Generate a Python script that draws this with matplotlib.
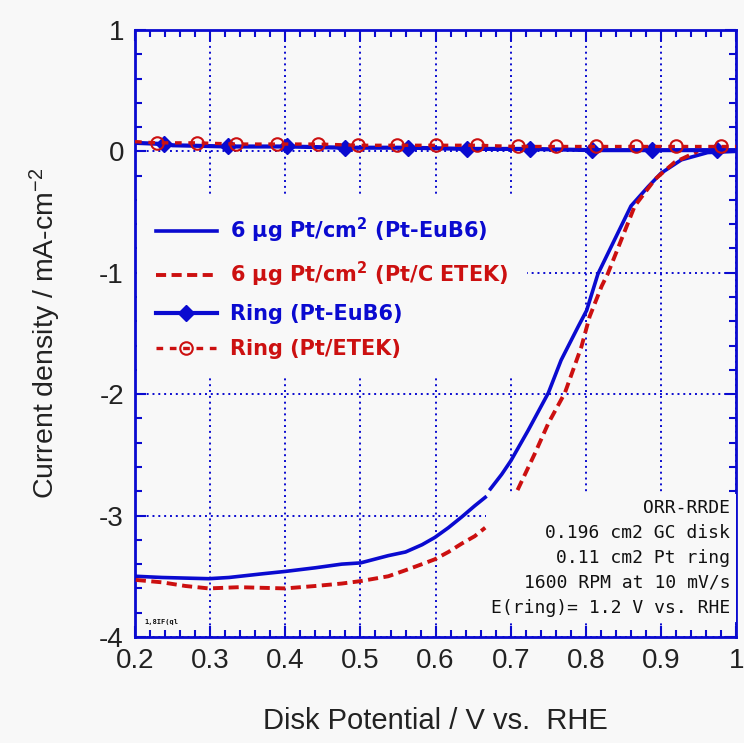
# ORR-RRDE: disk and ring currents, Pt-EuB6 vs Pt/C ETEK
import numpy as np
import matplotlib.pyplot as plt
from matplotlib.ticker import MultipleLocator

# === 0. data ===
nan = np.nan
# disk current, Pt-EuB6 (blue solid), NaN = small gap in the trace
disk_eub6_v = [0.201, 0.236, 0.298, 0.325, 0.369, 0.400, 0.440, 0.475, 0.500, 0.537,
               0.560, 0.582, 0.599, 0.617, 0.635, 0.652, 0.666, nan, 0.673, 0.688,
               0.700, 0.723, 0.750, 0.767, 0.790, 0.801, 0.816, 0.838, 0.860, 0.883,
               0.900, 0.927, 0.962, 1.000]
disk_eub6_j = [-3.50, -3.51, -3.52, -3.51, -3.48, -3.46, -3.43, -3.40, -3.39, -3.33,
               -3.30, -3.24, -3.18, -3.10, -3.01, -2.92, -2.85, nan, -2.78, -2.66,
               -2.55, -2.30, -1.99, -1.72, -1.44, -1.31, -1.01, -0.73, -0.45, -0.29,
               -0.18, -0.07, -0.01, 0.00]
# disk current, Pt/C ETEK (red dashed)
disk_etek_v = [0.201, 0.236, 0.267, 0.298, 0.338, 0.400, 0.440, 0.475, 0.500, 0.537,
               0.560, 0.582, 0.599, 0.617, 0.635, 0.652, 0.666, nan, 0.709, 0.732,
               0.750, 0.772, 0.794, 0.805, 0.821, 0.829, 0.847, 0.865, 0.892, 0.918,
               0.949]
disk_etek_j = [-3.53, -3.55, -3.58, -3.60, -3.59, -3.60, -3.58, -3.56, -3.54, -3.50,
               -3.45, -3.40, -3.36, -3.30, -3.23, -3.17, -3.10, nan, -2.79, -2.49,
               -2.24, -1.99, -1.61, -1.36, -1.11, -1.01, -0.73, -0.45, -0.23, -0.09,
               0.00]
# ring current, Pt-EuB6 (blue, diamonds)
ring_eub6_v = [0.200, 0.239, 0.250, 0.324, 0.402, 0.480, 0.563, 0.642, 0.726, 0.808,
               0.888, 0.974, 1.000]
ring_eub6_j = [0.07, 0.06, 0.05, 0.04, 0.04, 0.03, 0.03, 0.02, 0.02, 0.01,
               0.01, 0.01, 0.01]
# ring current, Pt/ETEK (red, open circles)
ring_etek_v = [0.200, 0.229, 0.282, 0.335, 0.389, 0.444, 0.497, 0.548, 0.601, 0.655,
               0.709, 0.760, 0.814, 0.867, 0.920, 0.980, 1.000]
ring_etek_j = [0.08, 0.07, 0.07, 0.06, 0.06, 0.06, 0.05, 0.05, 0.05, 0.05,
               0.04, 0.04, 0.04, 0.04, 0.04, 0.04, 0.04]

x_ticks = [0.2, 0.3, 0.4, 0.5, 0.6, 0.7, 0.8, 0.9, 1.0]
x_tick_labels = ["0.2", "0.3", "0.4", "0.5", "0.6", "0.7", "0.8", "0.9", "1"]
y_ticks = [-4, -3, -2, -1, 0, 1]
y_tick_labels = ["-4", "-3", "-2", "-1", "0", "1"]

info_lines = ["ORR-RRDE", "0.196 cm2 GC disk", "0.11 cm2 Pt ring",
              "1600 RPM at 10 mV/s", "E(ring)= 1.2 V vs. RHE"]

# === 1. colours / fonts ===
BG = "#f8f8f8"
BLUE = "#0a0ad0"
RED = "#cc1010"
plt.rcParams["font.family"] = ["Liberation Sans", "DejaVu Sans"]
plt.rcParams["mathtext.default"] = "regular"

# === 2. figure ===
fig = plt.figure(figsize=(7.44, 7.43), dpi=100, facecolor=BG)
ax = fig.add_axes([0.1815, 0.1427, 0.808, 0.817])
ax.set_facecolor(BG)

ax.plot(disk_eub6_v, disk_eub6_j, color=BLUE, lw=2.6, zorder=4,
        label="6 µg Pt/cm$^\\mathbf{2}$ (Pt-EuB6)")
ax.plot(disk_etek_v, disk_etek_j, color=RED, lw=2.8, ls=(0, (2.6, 1.4)), zorder=4,
        label="6 µg Pt/cm$^\\mathbf{2}$ (Pt/C ETEK)")
ax.plot(ring_eub6_v, ring_eub6_j, color=BLUE, lw=3.0, marker="D", ms=8.5,
        markevery=[1, 3, 4, 5, 6, 7, 8, 9, 10, 11], zorder=5, label="Ring (Pt-EuB6)")
ax.plot(ring_etek_v, ring_etek_j, color=RED, lw=2.4, ls=(0, (2, 2)), marker="o", ms=9,
        mfc="none", mew=1.5, markevery=list(range(1, 16)), zorder=6,
        label="Ring (Pt/ETEK)")

# === 3. axes ===
ax.set_xlim(0.2, 1.0)
ax.set_ylim(-4, 1)
ax.set_xticks(x_ticks)
ax.set_xticklabels(x_tick_labels)
ax.set_yticks(y_ticks)
ax.set_yticklabels(y_tick_labels)
ax.xaxis.set_minor_locator(MultipleLocator(0.02))
ax.yaxis.set_minor_locator(MultipleLocator(0.2))
ax.tick_params(which="both", direction="in", top=True, right=True, color=BLUE,
               width=1.5, labelsize=20, labelcolor="#222222", pad=8)
ax.tick_params(which="major", length=8)
ax.tick_params(which="minor", length=5)
for s in ax.spines.values():
    s.set_color(BLUE)
    s.set_linewidth(2)
ax.grid(True, which="major", color=BLUE, ls=(0, (1, 2)), lw=1.4, zorder=1)

ax.set_xlabel("Disk Potential / V vs.  RHE", fontsize=21, color="#222222", labelpad=24)
ax.set_ylabel("Current density / mA-cm$^{-2}$", fontsize=20.5, color="#222222",
              labelpad=26)

# === 4. legend & notes ===
leg = ax.legend(loc="upper left", bbox_to_anchor=(0.004, 0.725), borderaxespad=0,
                frameon=True, facecolor=BG, edgecolor="none", framealpha=1,
                fancybox=False, borderpad=0.9, handlelength=2.9, handletextpad=0.65,
                labelspacing=0.72, labelcolor="linecolor",
                prop={"family": "DejaVu Sans", "weight": "bold", "size": 15})
leg.set_zorder(3)

ax.text(0.99, 0.033, "\n".join(info_lines), transform=ax.transAxes, ha="right",
        va="bottom", multialignment="right", fontsize=13, family="DejaVu Sans Mono",
        color="#111111", linespacing=1.5, zorder=3,
        bbox=dict(boxstyle="square,pad=0.3", facecolor=BG, edgecolor="none"))
ax.text(0.015, 0.022, "1,8IF(ql", transform=ax.transAxes, fontsize=5,
        family="DejaVu Sans Mono", weight="bold", color="#111111", zorder=3)

plt.savefig("out.png", dpi=100, facecolor=BG)
